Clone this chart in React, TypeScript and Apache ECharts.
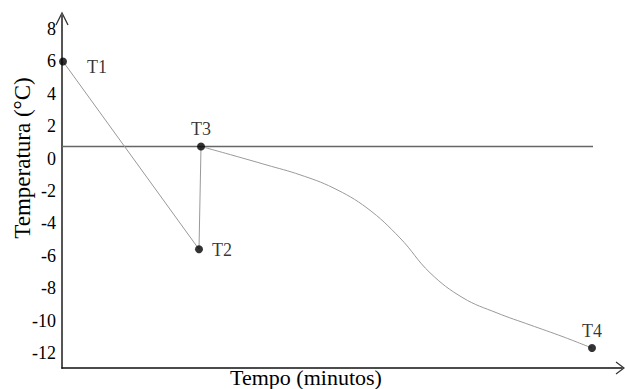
import React, { useEffect, useRef } from "react";
import * as echarts from "echarts";

const pointNames = ["T1", "T2", "T3", "T4"];
const pointX = [0.1, 13.7, 13.9, 53.0];
const pointY = [6.0, -5.6, 0.75, -11.7];

const coolX = [0.1, 13.7, 13.9];
const coolY = [6.0, -5.6, 0.75];

const curveX = [13.9, 17.1, 20.5, 23.8, 27.1, 30.5, 33.8, 36.8, 40.1, 43.5, 46.8, 50.1, 53.0];
const curveY = [0.75, 0.2, -0.4, -1.0, -1.8, -3.05, -4.9, -7.05, -8.6, -9.53, -10.27, -11.0, -11.7];

const refX = [0, 53.1];
const refY = [0.75, 0.75];

const yTicks = [-12, -10, -8, -6, -4, -2, 0, 2, 4, 6, 8];

const xAxisName = "Tempo (minutos)";
const yAxisName = "Temperatura (°C)";

const FONT = '"Liberation Serif", "Times New Roman", serif';

const W = 625;
const H = 389;
const GL = 62;
const GT = 14;
const GR = 3;
const GB = 21;

export default function App() {
  const ref = useRef<HTMLDivElement>(null);
  useEffect(() => {
    if (!ref.current) return;
    const chart = echarts.init(ref.current, null, { renderer: "svg" });
    const pair = (xs: number[], ys: number[]) => xs.map((x, i) => [x, ys[i]]);
    const labelCfg = [
      { position: "right", distance: 20, offset: [0, 6] },
      { position: "right", distance: 9, offset: [0, 1] },
      { position: "top", distance: 4, offset: [0, 0] },
      { position: "top", distance: 4, offset: [0, 0] },
    ];
    const axisBottomY = H - GB;
    chart.setOption({
      animation: false,
      grid: { left: GL, top: GT, right: GR, bottom: GB, containLabel: false },
      xAxis: {
        type: "value",
        min: 0,
        max: 56,
        axisLine: { show: true, onZero: false, lineStyle: { color: "#111", width: 1.5 } },
        axisTick: { show: false },
        axisLabel: { show: false },
        splitLine: { show: false },
      },
      yAxis: {
        type: "value",
        min: -12.93,
        max: 8.93,
        axisLine: { show: true, onZero: false, lineStyle: { color: "#555", width: 2 } },
        axisTick: { show: false },
        splitLine: { show: false },
        axisLabel: {
          show: true,
          customValues: yTicks,
          margin: 6,
          color: "#000",
          fontFamily: FONT,
          fontSize: 18,
          formatter: (v: number) => String(v),
        },
      },
      series: [
        {
          type: "line",
          data: pair(refX, refY),
          symbol: "none",
          lineStyle: { color: "#666", width: 1.6 },
          z: 2,
        },
        {
          type: "line",
          data: pair(coolX, coolY),
          symbol: "none",
          lineStyle: { color: "#999", width: 1 },
          z: 3,
        },
        {
          type: "line",
          data: pair(curveX, curveY),
          symbol: "none",
          smooth: 0.4,
          lineStyle: { color: "#999", width: 1 },
          z: 3,
        },
        {
          type: "scatter",
          symbol: "circle",
          symbolSize: 8,
          itemStyle: { color: "#000" },
          z: 5,
          data: pointX.map((x, i) => ({
            value: [x, pointY[i]],
            label: {
              show: true,
              formatter: pointNames[i],
              color: "#000",
              fontFamily: FONT,
              fontSize: 18,
              ...labelCfg[i],
            },
          })),
        },
      ],
      graphic: [
        {
          type: "polyline",
          shape: { points: [[GL - 6, GT + 11], [GL, GT - 1], [GL + 6, GT + 11]] },
          style: { stroke: "#333", lineWidth: 1.3, fill: null },
        },
        {
          type: "polyline",
          shape: { points: [[W - 9, axisBottomY - 6], [W - 1, axisBottomY], [W - 9, axisBottomY + 6]] },
          style: { stroke: "#333", lineWidth: 1.2, fill: null },
        },
        {
          type: "text",
          x: 306,
          y: 377,
          style: {
            text: xAxisName,
            font: `22px ${FONT}`,
            fill: "#000",
            align: "center",
            verticalAlign: "middle",
          },
        },
        {
          type: "text",
          x: 22,
          y: 158,
          rotation: Math.PI / 2,
          style: {
            text: yAxisName,
            font: `23px ${FONT}`,
            fill: "#000",
            align: "center",
            verticalAlign: "middle",
          },
        },
      ],
    });
    return () => chart.dispose();
  }, []);
  return (
    <div
      ref={ref}
      style={{ position: "fixed", left: 0, top: 0, width: W, height: H, background: "#fff" }}
    />
  );
}
